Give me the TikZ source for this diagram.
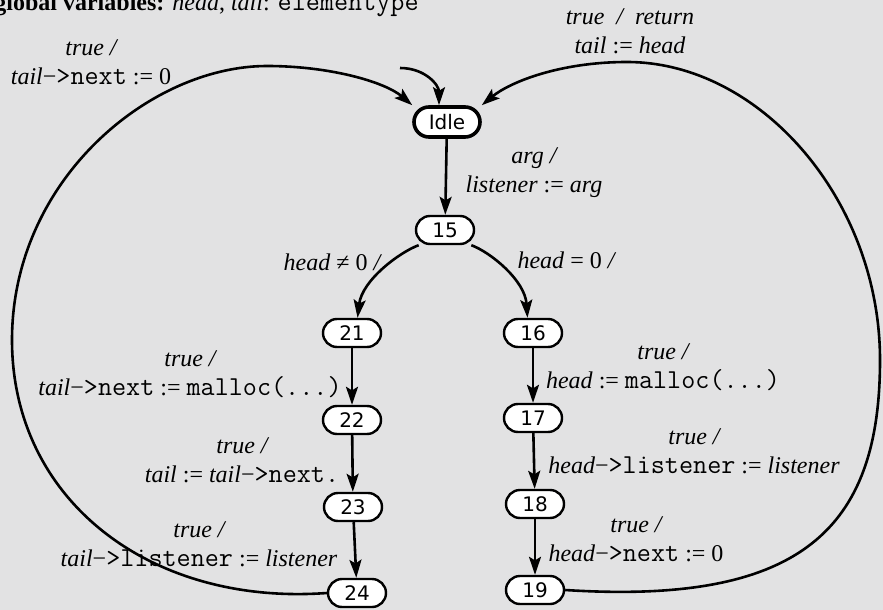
\documentclass[tikz,border=0pt]{standalone}
\usepackage{fontspec}
\setmainfont{Liberation Serif}
\setmonofont{Latin Modern Mono}[Scale=1.14]
\newfontfamily\statefont{DejaVu Sans}
\usetikzlibrary{arrows.meta}
\definecolor{paper}{RGB}{226,226,227}
\newcommand{\code}[1]{{\upshape\ttfamily #1}}
\newcommand{\op}[1]{\textup{#1}}

\tikzset{
  state/.style={draw, line width=1.2pt, fill=white, rounded corners=7pt,
    minimum width=29pt, minimum height=14pt, inner sep=0pt,
    font=\statefont\fontsize{10}{11}\selectfont},
  idle/.style={state, line width=1.8pt, rounded corners=7.5pt,
    minimum width=33pt, minimum height=15pt},
  trans/.style={line width=1.3pt, -{Stealth[length=9pt,width=6pt,inset=1.8pt]}},
  guard/.style={align=center, inner sep=0pt,
    font=\fontsize{12}{14.5}\selectfont\itshape},
}

\begin{document}
\begin{tikzpicture}[x=0.5pt,y=-0.5pt]
\fill[paper] (0,0) rectangle (883,610);
\useasboundingbox (0,0) rectangle (883,610);
% header line, cut off at the top
\node[anchor=base west, inner sep=0pt, font=\fontsize{12}{14}\selectfont] (globals) at (-6,11)
  {\textbf{global variables:} \textit{head}, \textit{tail}: \code{elementype}};

% states
\node[idle] (idle) at (447,122) {Idle};
\node[state] (s15) at (445,230) {15};
\node[state] (s21) at (352,333) {21};
\node[state] (s22) at (352,420) {22};
\node[state] (s23) at (353,507) {23};
\node[state] (s24) at (357,593) {24};
\node[state] (s16) at (533,333) {16};
\node[state] (s17) at (533,418) {17};
\node[state] (s18) at (535,504) {18};
\node[state] (s19) at (535,590) {19};

% transitions
\coordinate (init) at (400,68);
\draw[trans] (init) .. controls (425,68) and (439,85) .. ([xshift=-4pt]idle.north);
\draw[trans] (idle) -- (s15);
\draw[trans] (s15.-150) .. controls (400,252) and (362,280) .. (s21.70);
\draw[trans] (s15.-30) .. controls (490,252) and (525,280) .. (s16.110);
\draw[trans] (s21) -- (s22);
\draw[trans] (s22) -- (s23);
\draw[trans] (s23) -- (s24);
\draw[trans] (s16) -- (s17);
\draw[trans] (s17) -- (s18);
\draw[trans] (s18) -- (s19);
% back to Idle
\draw[trans] (s24.west) .. controls (150,606) and (12,500) .. (12,340)
  .. controls (12,180) and (150,66) .. (267,66)
  .. controls (330,66) and (385,82) .. (idle.north west);
\draw[trans] (s19.east) .. controls (800,605) and (880,530) .. (880,360)
  .. controls (880,200) and (760,62) .. (627,62)
  .. controls (560,62) and (510,82) .. (idle.north east);

% guards and actions
\node[guard] (gtail) at (91,62) {true /\\ tail\op{−}\code{>next} \op{:= 0}};
\node[guard] (ghead) at (630,31) {true \ / \ return\\ tail \op{:=} head};
\node[guard] (garg) at (534,173) {arg /\\ listener \op{:=} arg};
\node[guard] (gne) at (332,262) {head \op{≠ 0} /};
\node[guard] (geq) at (566,260) {head \op{= 0} /};
\node[guard] (g21) at (190,374) {true /\\ tail\op{−}\code{>next} \op{:=} \code{malloc(...)}};
\node[guard] (g22) at (242,460) {true /\\ tail \op{:=} tail\op{−}\code{>next.}};
\node[guard] (g23) at (199,544) {true /\\ tail\op{−}\code{>listener} \op{:=} listener};
\node[guard] (g16) at (663,367) {true /\\ head \op{:=} \code{malloc(...)}};
\node[guard] (g17) at (694,451) {true /\\ head\op{−}\code{>listener} \op{:=} listener};
\node[guard] (g18) at (636,539) {true /\\ head\op{−}\code{>next} \op{:= 0}};
\end{tikzpicture}
\end{document}
